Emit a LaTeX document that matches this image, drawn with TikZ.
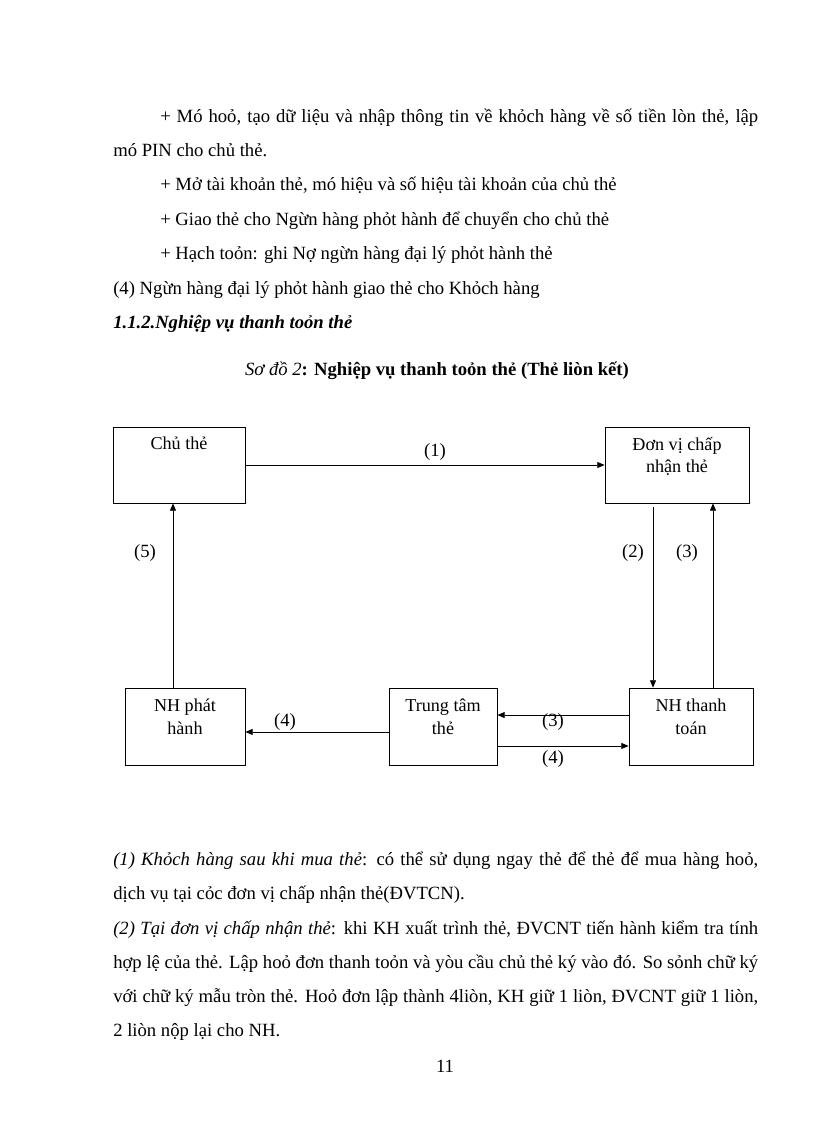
\documentclass[tikz,border=0pt]{standalone}
\usepackage{fontspec}
\setmainfont{Liberation Serif}
\usetikzlibrary{arrows.meta}

\begin{document}
\begin{tikzpicture}[x=0.75pt,y=-0.75pt,font=\fontsize{14}{16.5}\selectfont,
		txt/.style={anchor=base west,inner sep=0pt},
		box/.style={draw,line width=0.6pt,minimum height=57pt},
		boxtxt/.style={anchor=north,align=center,inner sep=0pt,font=\fontsize{13.6}{16.8}\selectfont},
		arr/.style={line width=0.6pt,-{Triangle[length=5.5pt,width=4.5pt]}}]
			\useasboundingbox (0,0) rectangle (816,1123);
			% text above the chart
			\node[txt] (l1) at (160,123) {\makebox[448.5pt][s]{+ Mó hoỏ, tạo dữ liệu và nhập thông tin về khỏch hàng về số tiền lòn thẻ, lập}};
			\node[txt] (l2) at (113,157) {mó PIN cho chủ thẻ.};
			\node[txt] (l3) at (160,191) {+ Mở tài khoản thẻ, mó hiệu và số hiệu tài khoản của chủ thẻ};
			\node[txt] (l4) at (160,225) {+ Giao thẻ cho Ngừn hàng phỏt hành để chuyển cho chủ thẻ};
			\node[txt] (l5) at (160,259) {+ Hạch toỏn: ghi Nợ ngừn hàng đại lý phỏt hành thẻ};
			\node[txt] (l6) at (113,294) {(4) Ngừn hàng đại lý phỏt hành giao thẻ cho Khỏch hàng};
			\node[txt] (sec) at (113,328) {\bfseries\itshape 1.1.2.Nghiệp vụ thanh toỏn thẻ};
			\node[anchor=base,inner sep=0pt] (cap) at (437,375) {\textit{Sơ đồ 2}\textbf{: Nghiệp vụ thanh toỏn thẻ (Thẻ liòn kết)}};
			% boxes
			\node[box,minimum width=99pt] (chu) at (179,465) {};
			\node[box,minimum width=108pt] (dv) at (677,465) {};
			\node[box,minimum width=90pt,minimum height=57.75pt] (nhph) at (185,726.5) {};
			\node[box,minimum width=81pt,minimum height=57.75pt] (tt) at (443,726.5) {};
			\node[box,minimum width=93pt,minimum height=57.75pt] (nhtt) at (691,726.5) {};
			\node[boxtxt,yshift=-7.5pt] at (chu.north) {Chủ thẻ};
			\node[boxtxt,yshift=-7.5pt] at (dv.north) {Đơn vị chấp\\nhận thẻ};
			\node[boxtxt,yshift=-8.5pt] at (nhph.north) {NH phát\\hành};
			\node[boxtxt,yshift=-8.5pt] at (tt.north) {Trung tâm\\thẻ};
			\node[boxtxt,yshift=-8.5pt] at (nhtt.north) {NH thanh\\toán};
			% arrows
			\draw[arr] (chu.east) -- (dv.west);
			\draw[arr] ([xshift=-9pt]nhph.north) -- ([xshift=-9pt]nhph.north |- chu.south);
			\draw[arr] ([xshift=-18pt,yshift=-3pt]dv.south) -- ([xshift=-18pt]dv.south |- nhtt.north);
			\draw[arr] ([xshift=27pt]dv.south |- nhtt.north) -- ([xshift=27pt]dv.south);
			\draw[arr] ([yshift=8.6pt]nhtt.west) -- ([yshift=8.6pt]nhtt.west -| tt.east);
			\draw[arr] ([yshift=-14.6pt]tt.east) -- ([yshift=-14.6pt]tt.east -| nhtt.west);
			\draw[arr] ([yshift=-4.1pt]tt.west) -- ([yshift=-4.1pt]tt.west -| nhph.east);
			\node (n1) at (435,452) {(1)};
			\node (n5) at (145,553) {(5)};
			\node (n2) at (633,553) {(2)};
			\node (n3) at (687,553) {(3)};
			\node (n3b) at (553,722) {(3)};
			\node (n4b) at (553,759) {(4)};
			\node (n4) at (285,722) {(4)};
			% text below the chart
			\node[txt] (b1) at (113,865) {\makebox[483.75pt][s]{\textit{(1) Khỏch hàng sau khi mua thẻ}: có thể sử dụng ngay thẻ để thẻ để mua hàng hoỏ,}};
			\node[txt] (b2) at (113,899) {dịch vụ tại cỏc đơn vị chấp nhận thẻ(ĐVTCN).};
			\node[txt] (b3) at (113,934) {\makebox[483.75pt][s]{\textit{(2) Tại đơn vị chấp nhận thẻ}: khi KH xuất trình thẻ, ĐVCNT tiến hành kiểm tra tính}};
			\node[txt] (b4) at (113,968) {\makebox[483.75pt][s]{hợp lệ của thẻ. Lập hoỏ đơn thanh toỏn và yòu cầu chủ thẻ ký vào đó. So sỏnh chữ ký}};
			\node[txt] (b5) at (113,1002) {\makebox[483.75pt][s]{với chữ ký mẫu tròn thẻ. Hoỏ đơn lập thành 4liòn, KH giữ 1 liòn, ĐVCNT giữ 1 liòn,}};
			\node[txt] (b6) at (113,1036) {2 liòn nộp lại cho NH.};
			\node[anchor=base,inner sep=0pt] (pg) at (445,1072) {11};
		\end{tikzpicture}
\end{document}
